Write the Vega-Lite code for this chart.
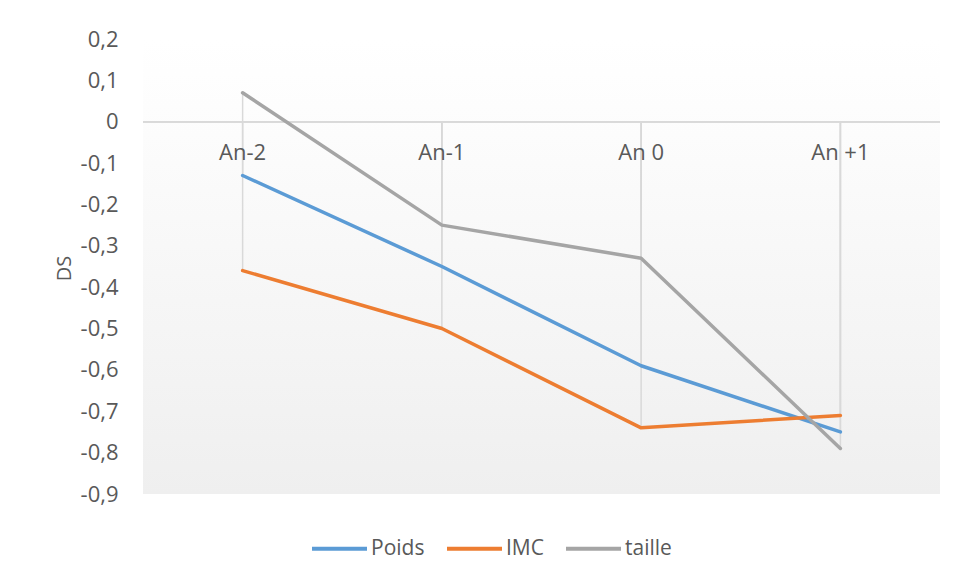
{
  "$schema": "https://vega.github.io/schema/vega-lite/v6.json",
  "width": 797,
  "height": 455,
  "autosize": {"type": "none"},
  "padding": {"left": 143, "top": 39, "right": 17, "bottom": 86},
  "background": "#ffffff",
  "config": {
    "font": "Open Sans",
    "view": {
      "stroke": null,
      "fill": {"gradient": "linear", "x1": 0, "y1": 0, "x2": 0, "y2": 1,
        "stops": [{"offset": 0, "color": "#ffffff"}, {"offset": 0.15, "color": "#fdfdfd"}, {"offset": 1, "color": "#efefef"}]}
    }
  },
  "data": {
    "values": [
      {"annee": "An-2", "serie": "Poids", "ds": -0.13},
      {"annee": "An-1", "serie": "Poids", "ds": -0.35},
      {"annee": "An 0", "serie": "Poids", "ds": -0.59},
      {"annee": "An +1", "serie": "Poids", "ds": -0.75},
      {"annee": "An-2", "serie": "IMC", "ds": -0.36},
      {"annee": "An-1", "serie": "IMC", "ds": -0.50},
      {"annee": "An 0", "serie": "IMC", "ds": -0.74},
      {"annee": "An +1", "serie": "IMC", "ds": -0.71},
      {"annee": "An-2", "serie": "taille", "ds": 0.07},
      {"annee": "An-1", "serie": "taille", "ds": -0.25},
      {"annee": "An 0", "serie": "taille", "ds": -0.33},
      {"annee": "An +1", "serie": "taille", "ds": -0.79}
    ]
  },
  "encoding": {
    "x": {
      "field": "annee", "type": "ordinal",
      "sort": ["An-2", "An-1", "An 0", "An +1"],
      "scale": {"type": "point", "padding": 0.5},
      "axis": null
    }
  },
  "layer": [
    {
      "mark": {"type": "rule", "color": "#d9d9d9", "strokeWidth": 1.5},
      "encoding": {
        "y": {"field": "ds", "type": "quantitative", "scale": {"domain": [-0.9, 0.2], "nice": false, "zero": false},
          "axis": {
            "title": "DS",
            "values": [-0.9, -0.8, -0.7, -0.6, -0.5, -0.4, -0.3, -0.2, -0.1, 0, 0.1, 0.2],
            "labelExpr": "datum.value == 0 ? '0' : replace(replace(format(datum.value, '.1f'), '.', ','), '\u2212', '-')",
            "domain": false, "ticks": false, "grid": false,
            "labelPadding": 25, "labelFontSize": 22, "labelColor": "#595959", "labelFont": "Open Sans",
            "titleFontSize": 20, "titleFontWeight": "normal", "titleColor": "#595959", "titleFont": "Open Sans",
            "titleX": -79, "titleY": 229, "titleAngle": -90, "titleAlign": "center", "titleBaseline": "middle"
          }
        },
        "y2": {"datum": 0}
      }
    },
    {
      "mark": {"type": "rule", "color": "#d9d9d9", "strokeWidth": 1.5},
      "encoding": {"y": {"datum": 0, "type": "quantitative"}, "x": null}
    },
    {
      "transform": [{"filter": "datum.serie == 'Poids'"}],
      "mark": {"type": "text", "dy": 31, "fontSize": 22, "color": "#595959", "baseline": "middle", "align": "center"},
      "encoding": {"y": {"datum": 0, "type": "quantitative"}, "text": {"field": "annee"}}
    },
    {
      "mark": {"type": "line", "strokeWidth": 3.5, "strokeCap": "round", "strokeJoin": "round"},
      "encoding": {
        "y": {"field": "ds", "type": "quantitative"},
        "color": {
          "field": "serie", "type": "nominal",
          "scale": {"domain": ["Poids", "IMC", "taille"], "range": ["#5B9BD5", "#ED7D31", "#A5A5A5"]},
          "legend": {
            "title": null, "orient": "none", "direction": "horizontal",
            "legendX": 167, "legendY": 480,
            "symbolType": "stroke", "symbolSize": 3025, "symbolStrokeWidth": 4,
            "labelFontSize": 21, "labelColor": "#595959", "labelOffset": 2,
            "columnPadding": 14
          }
        }
      }
    }
  ]
}
